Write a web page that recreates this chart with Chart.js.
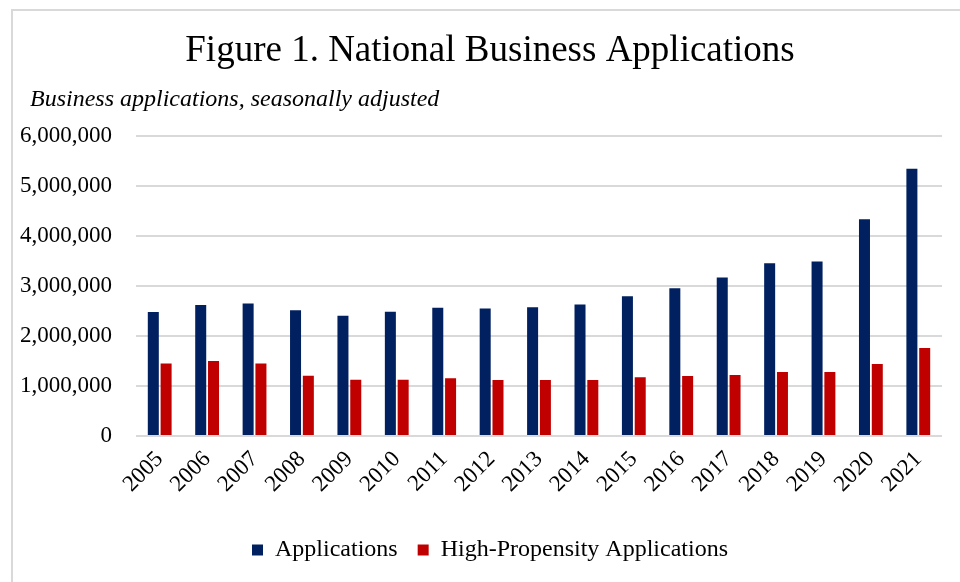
<!DOCTYPE html>
<html lang="en">
<head>
  <meta charset="UTF-8">
  <title>Figure 1. National Business Applications</title>
  <style>
    html, body { margin: 0; padding: 0; background: #fff; }
    #wrap { position: relative; width: 960px; height: 582px; overflow: hidden; }
    #frame { position: absolute; left: 11px; top: 9px; width: 1000px; height: 1000px;
             border-left: 2px solid #d9d9d9; border-top: 2px solid #d9d9d9; }
    #chart { position: absolute; left: 0; top: 0; }
  </style>
</head>
<body>
  <div id="wrap">
    <div id="frame"></div>
    <canvas id="chart" width="960" height="582"></canvas>
  </div>

  <script src="https://cdn.jsdelivr.net/npm/chart.js"></script>
  <script>
    // 연도별 데이터
    const years = ['2005', '2006', '2007', '2008', '2009', '2010', '2011', '2012', '2013',
                   '2014', '2015', '2016', '2017', '2018', '2019', '2020', '2021'];
    const applications = [2485000, 2625000, 2651000, 2517000, 2410000, 2490000, 2570000, 2555000, 2580000,
                          2634000, 2800000, 2960000, 3174000, 3460000, 3494000, 4340000, 5354000];
    const highPropensity = [1449000, 1503000, 1449000, 1208000, 1128000, 1128000, 1154000, 1120000, 1120000,
                            1120000, 1174000, 1200000, 1220000, 1280000, 1280000, 1440000, 1760000];
    const yTicks = [0, 1000000, 2000000, 3000000, 4000000, 5000000, 6000000];

    const serif = "'Liberation Serif', 'Times New Roman', serif";
    const subtitleText = 'Business applications, seasonally adjusted';

    // 부제목: 왼쪽에서 조금 들여서 그리기 (자리는 title padding으로 확보)
    const subtitlePlugin = {
      id: 'leftSubtitle',
      afterDraw(chart) {
        const c = chart.ctx;
        c.save();
        c.font = `italic 24px ${serif}`;
        c.fillStyle = '#000';
        c.textAlign = 'left';
        c.textBaseline = 'middle';
        c.fillText(subtitleText, 30, 100);
        c.restore();
      }
    };

    const ctx = document.getElementById('chart').getContext('2d');
    new Chart(ctx, {
      type: 'bar',
      data: {
        labels: years,
        datasets: [
          {
            label: 'Applications',
            data: applications,
            backgroundColor: '#002060',
            categoryPercentage: 0.54,
            barPercentage: 0.86
          },
          {
            label: 'High-Propensity Applications',
            data: highPropensity,
            backgroundColor: '#C00000',
            categoryPercentage: 0.54,
            barPercentage: 0.86
          }
        ]
      },
      options: {
        responsive: false,
        animation: false,
        layout: { padding: { left: 20, right: 0, top: 0, bottom: 10 } },
        plugins: {
          title: {
            display: true,
            text: 'Figure 1. National Business Applications',
            color: '#000',
            font: { family: serif, size: 37, weight: 'normal', lineHeight: 1.2 },
            padding: { top: 29, bottom: 63 }
          },
          legend: {
            position: 'bottom',
            labels: {
              color: '#000',
              font: { family: serif, size: 24 },
              boxWidth: 11,
              boxHeight: 11,
              padding: 20
            }
          },
          tooltip: { enabled: false }
        },
        scales: {
          x: {
            afterFit: (axis) => { axis.height += 18; },
            grid: { display: false },
            border: { display: false },
            ticks: {
              color: '#000',
              font: { family: serif, size: 23 },
              maxRotation: 45,
              minRotation: 45,
              padding: 2
            }
          },
          y: {
            min: 0,
            max: 6000000,
            afterFit: (axis) => { axis.width = 116; },
            afterBuildTicks: (axis) => { axis.ticks = yTicks.map(v => ({ value: v })); },
            grid: { color: '#d9d9d9', lineWidth: 2, drawTicks: false },
            border: { display: false },
            ticks: {
              color: '#000',
              font: { family: serif, size: 23 },
              padding: 24,
              callback: (v) => Number(v).toLocaleString('en-US')
            }
          },
          // 오른쪽 여백용 빈 축
          yRight: {
            position: 'right',
            min: 0,
            max: 6000000,
            afterFit: (axis) => { axis.width = 18; },
            grid: { display: false },
            border: { display: false },
            ticks: { display: false }
          }
        }
      },
      plugins: [subtitlePlugin]
    });
  </script>
</body>
</html>
